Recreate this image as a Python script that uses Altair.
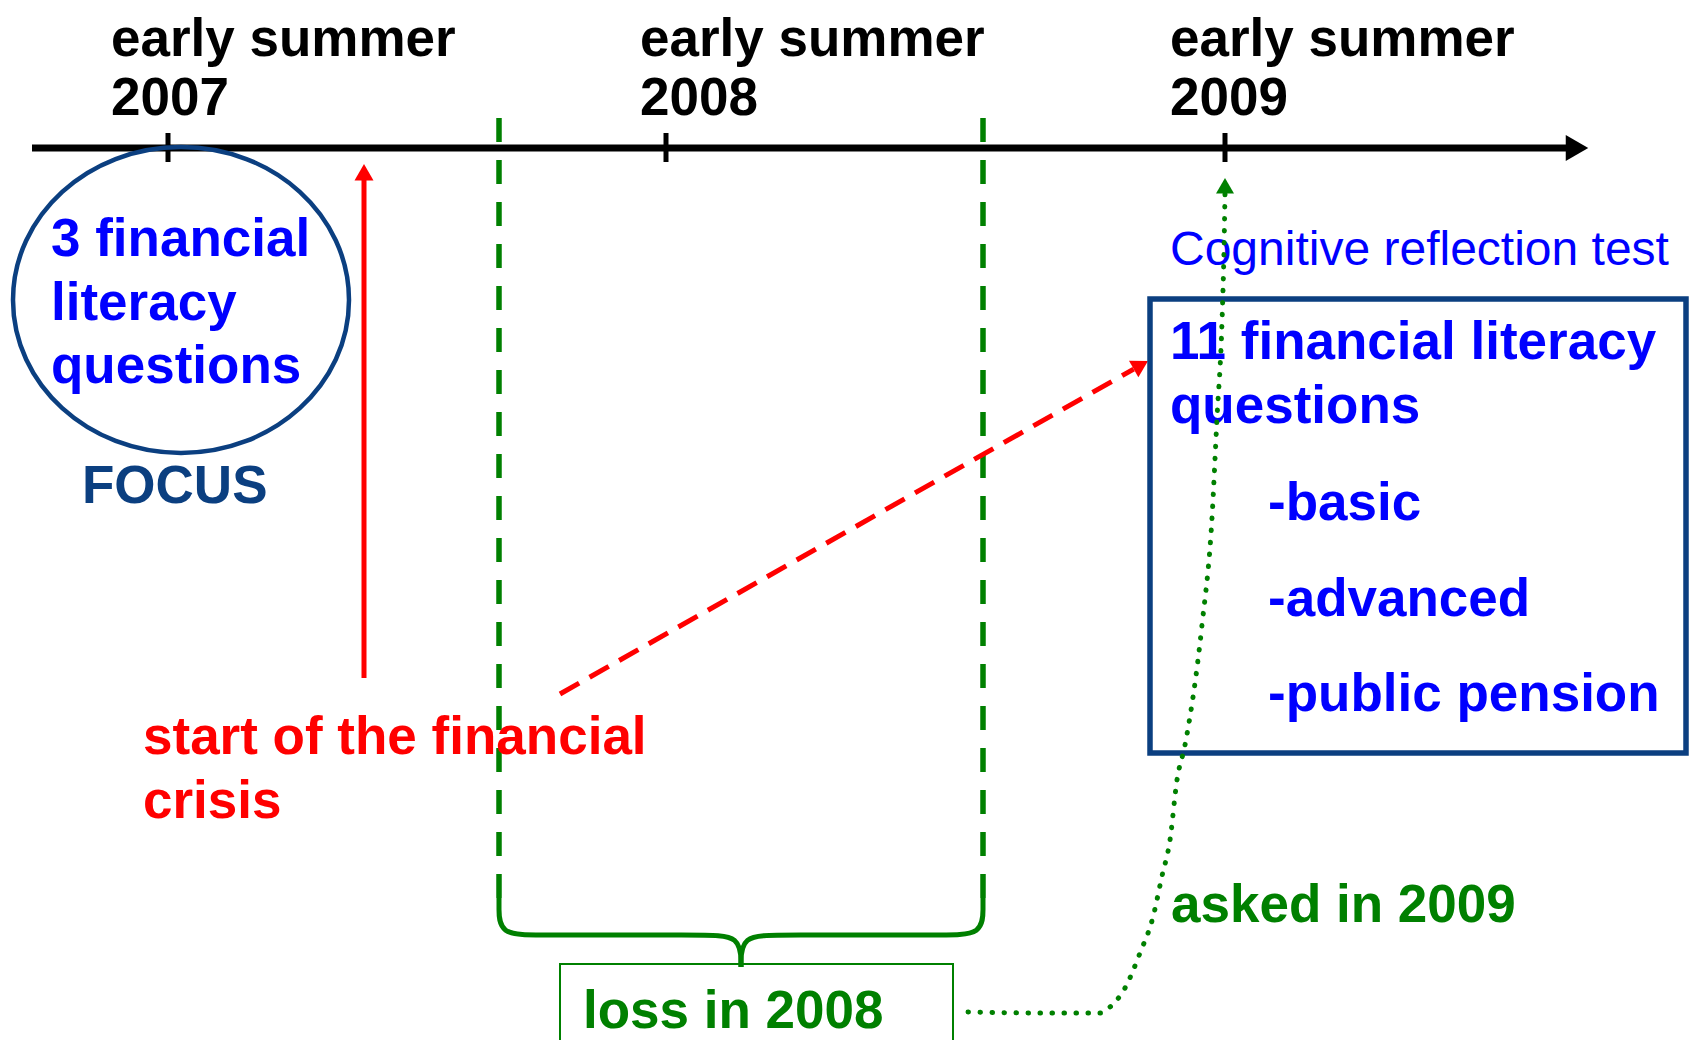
import math
import altair as alt
import pandas as pd

# ---------------- colours / font ----------------
FONT = "Liberation Sans"
BLUE = "#0000FF"
NAVY = "#0B3F80"
GREEN = "#008000"
RED = "#FF0000"
BLACK = "#000000"
BOLD_SIZE = 53

# plot area = page minus 8px margin; data units are page pixels
W, H = 1681, 1032
X_DOMAIN = [8, 8 + W]
Y_DOMAIN = [8, 8 + H]

# ---------------- timeline ----------------
axis_x = [32, 1566]
axis_y = [148]
axis_head_x = [1577]
tick_x = [168, 666, 1225]
tick_top = [133, 133, 133]
tick_bottom = [162, 162, 162]

label_line1 = ["early summer", "early summer", "early summer"]
label_line2 = ["2007", "2008", "2009"]
label_x = [111, 640, 1170]
label_y1 = [56, 56, 56]
label_y2 = [115, 115, 115]

# ---------------- focus ellipse ----------------
ellipse_cx = [181]
ellipse_cy = [300]
ellipse_rx = [168]
ellipse_ry = [153]
circle_text = ["3 financial", "literacy", "questions"]
circle_text_y = [256, 320, 383]
circle_text_x = [51, 51, 51]
focus_text = ["FOCUS"]
focus_xy = [82, 503]

# ---------------- crisis arrows ----------------
crisis_x = [364]
crisis_y = [678, 164]           # bottom, arrow tip
crisis_text = ["start of the financial", "crisis"]
crisis_text_x = [143, 143]
crisis_text_y = [754, 818]
red_dash_from = [560, 694]
red_dash_tip = [1148, 361]

# ---------------- 2008 window ----------------
window_x = [499, 983]
window_top = [118, 118]
window_bottom = [898, 898]
brace_left_x = [499, 499, 499, 539, 702, 741, 741]
brace_right_x = [983, 983, 983, 943, 780, 741, 741]
brace_y = [898, 906, 935, 935, 935, 935, 967]
loss_box = [560, 953, 964, 1070]   # x1, x2, y1, y2
loss_text = ["loss in 2008"]
loss_xy = [583, 1028]

# ---------------- asked in 2009 (dotted path) ----------------
dot_x = [968, 1040, 1100, 1110, 1125, 1140, 1153, 1162, 1170, 1177, 1185, 1202, 1212, 1217, 1222, 1224, 1225]
dot_y = [1012, 1013, 1013, 1007, 988, 953, 917, 876, 840, 780, 745, 625, 518, 418, 322, 250, 194]
dot_tip = [1225, 178]
asked_text = ["asked in 2009"]
asked_xy = [1171, 922]

# ---------------- 2009 box ----------------
crt_text = ["Cognitive reflection test"]
crt_xy = [1170, 265]
box = [1150, 1686, 299, 753]
box_text = ["11 financial literacy", "questions", "-basic", "-advanced", "-public pension"]
box_text_x = [1170, 1170, 1268, 1268, 1268]
box_text_y = [359, 423, 520, 616, 711]

# ======================================================================
xs = alt.Scale(domain=X_DOMAIN, nice=False, zero=False)
ys = alt.Scale(domain=Y_DOMAIN, reverse=True, nice=False, zero=False)


def X(f):
    return alt.X(f, type="quantitative", scale=xs, axis=None)


def Y(f):
    return alt.Y(f, type="quantitative", scale=ys, axis=None)


def X2(f):
    return alt.X2(f)


def Y2(f):
    return alt.Y2(f)


def text_layer(texts, xs_, ys_, color, size=BOLD_SIZE, weight="bold"):
    df = pd.DataFrame({"t": texts, "x": xs_, "y": ys_})
    return alt.Chart(df).mark_text(
        align="left", baseline="alphabetic", font=FONT, fontSize=size,
        fontWeight=weight, color=color
    ).encode(x=X("x"), y=Y("y"), text="t:N")


def head_layer(cx, cy, r, angle, color, shape="triangle-up"):
    df = pd.DataFrame({"x": [cx], "y": [cy]})
    return alt.Chart(df).mark_point(
        shape=shape, size=(2 * r) ** 2, filled=True, fill=color, stroke=None,
        opacity=1, angle=angle
    ).encode(x=X("x"), y=Y("y"))


layers = []

# --- green 2008 window (dashed verticals + brace) ---
win_df = pd.DataFrame({"x": window_x, "y": window_top, "y2": window_bottom})
layers.append(alt.Chart(win_df).mark_rule(
    color=GREEN, strokeWidth=5.5, strokeDash=[24, 18]
).encode(x=X("x"), y=Y("y"), y2=Y2("y2")))

brace_df = pd.DataFrame({
    "x": brace_left_x + brace_right_x,
    "y": brace_y + brace_y,
    "side": ["L"] * len(brace_y) + ["R"] * len(brace_y),
    "i": list(range(len(brace_y))) * 2,
})
layers.append(alt.Chart(brace_df).mark_line(
    color=GREEN, strokeWidth=5, interpolate="basis"
).encode(x=X("x"), y=Y("y"), detail="side:N", order="i:Q"))

loss_df = pd.DataFrame({"x": [loss_box[0]], "x2": [loss_box[1]],
                        "y": [loss_box[2]], "y2": [loss_box[3]]})
layers.append(alt.Chart(loss_df).mark_rect(
    fill=None, fillOpacity=0, stroke=GREEN, strokeWidth=2, clip=True
).encode(x=X("x"), x2=X2("x2"), y=Y("y"), y2=Y2("y2")))

# --- timeline ---
axis_df = pd.DataFrame({"x": [axis_x[0]], "x2": [axis_x[1]], "y": axis_y})
layers.append(alt.Chart(axis_df).mark_rule(color=BLACK, strokeWidth=7).encode(
    x=X("x"), x2=X2("x2"), y=Y("y")))
layers.append(head_layer(axis_head_x[0], axis_y[0], 13, 0, BLACK, "triangle-right"))
tick_df = pd.DataFrame({"x": tick_x, "y": tick_top, "y2": tick_bottom})
layers.append(alt.Chart(tick_df).mark_rule(color=BLACK, strokeWidth=5).encode(
    x=X("x"), y=Y("y"), y2=Y2("y2")))
layers.append(text_layer(label_line1, label_x, label_y1, BLACK))
layers.append(text_layer(label_line2, label_x, label_y2, BLACK))

# --- focus ellipse ---
k = ellipse_ry[0] / ellipse_rx[0]
ell_path = f"M -1 0 A 1 {k:.4f} 0 1 1 1 0 A 1 {k:.4f} 0 1 1 -1 0 Z"
ell_df = pd.DataFrame({"x": ellipse_cx, "y": ellipse_cy})
layers.append(alt.Chart(ell_df).mark_point(
    shape=ell_path, size=(2 * ellipse_rx[0]) ** 2, filled=False, stroke=NAVY,
    strokeWidth=4.5, opacity=1
).encode(x=X("x"), y=Y("y")))
layers.append(text_layer(circle_text, circle_text_x, circle_text_y, BLUE))
layers.append(text_layer(focus_text, [focus_xy[0]], [focus_xy[1]], NAVY))

# --- crisis ---
layers.append(text_layer(crisis_text, crisis_text_x, crisis_text_y, RED))
cr_df = pd.DataFrame({"x": crisis_x, "y": [crisis_y[0]], "y2": [crisis_y[1] + 14]})
layers.append(alt.Chart(cr_df).mark_rule(color=RED, strokeWidth=5).encode(
    x=X("x"), y=Y("y"), y2=Y2("y2")))
r_up = 9.5
h_up = math.sqrt(3) / 2 * r_up
layers.append(head_layer(crisis_x[0], crisis_y[1] + h_up, r_up, 0, RED))

dx = red_dash_tip[0] - red_dash_from[0]
dy = red_dash_tip[1] - red_dash_from[1]
L = math.hypot(dx, dy)
ux, uy = dx / L, dy / L
ang = math.degrees(math.atan2(dx, -dy)) % 360
r_d = 9.5
h_d = math.sqrt(3) / 2 * r_d
rd_df = pd.DataFrame({"x": [red_dash_from[0]], "y": [red_dash_from[1]],
                      "x2": [red_dash_tip[0] - ux * 2 * h_d],
                      "y2": [red_dash_tip[1] - uy * 2 * h_d]})
layers.append(alt.Chart(rd_df).mark_rule(
    color=RED, strokeWidth=5, strokeDash=[22, 12]
).encode(x=X("x"), y=Y("y"), x2=X2("x2"), y2=Y2("y2")))
layers.append(head_layer(red_dash_tip[0] - ux * h_d, red_dash_tip[1] - uy * h_d,
                         r_d, ang, RED))

# --- 2009 box ---
layers.append(text_layer(crt_text, [crt_xy[0]], [crt_xy[1]], BLUE, size=48, weight="normal"))
box_df = pd.DataFrame({"x": [box[0]], "x2": [box[1]], "y": [box[2]], "y2": [box[3]]})
layers.append(alt.Chart(box_df).mark_rect(
    fill=None, fillOpacity=0, stroke=NAVY, strokeWidth=5.5
).encode(x=X("x"), x2=X2("x2"), y=Y("y"), y2=Y2("y2")))
layers.append(text_layer(box_text, box_text_x, box_text_y, BLUE))

layers.append(text_layer(loss_text, [loss_xy[0]], [loss_xy[1]], GREEN))
layers.append(text_layer(asked_text, [asked_xy[0]], [asked_xy[1]], GREEN))

# --- dotted path ---
dot_df = pd.DataFrame({"x": dot_x, "y": dot_y, "i": list(range(len(dot_x)))})
layers.append(alt.Chart(dot_df).mark_line(
    color=GREEN, strokeWidth=5, strokeDash=[0.5, 11.5], strokeCap="round",
    interpolate="monotone"
).encode(x=X("x"), y=Y("y"), order="i:Q"))
r_g = 9
h_g = math.sqrt(3) / 2 * r_g
layers.append(head_layer(dot_tip[0], dot_tip[1] + h_g, r_g, 0, GREEN))

chart = alt.layer(*layers).properties(
    width=W, height=H, padding=0,
    autosize=alt.AutoSizeParams(type="none"),
    background="white",
).configure_view(stroke=None)

chart.save("out.html", embed_options={"renderer": "svg", "actions": False})
